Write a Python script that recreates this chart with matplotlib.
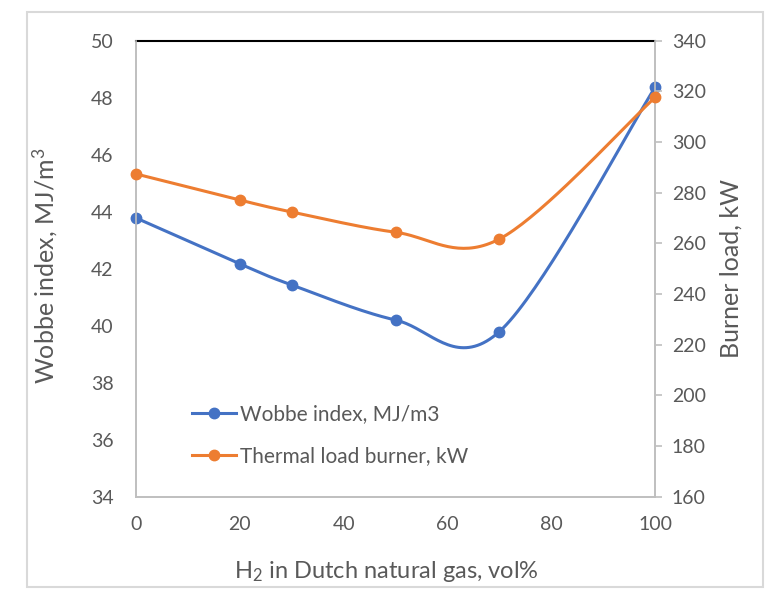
import numpy as np
import matplotlib
matplotlib.use("Agg")
import matplotlib.pyplot as plt
from matplotlib.patches import Rectangle
from matplotlib.lines import Line2D

h2_vol = [0, 20, 30, 50, 70, 100]
wobbe = [43.78, 42.17, 41.43, 40.2, 39.79, 48.36]
thermal_load = [287.4, 277.1, 272.4, 264.4, 261.7, 317.6]

BLUE = "#4472C4"
ORANGE = "#ED7D31"
GRAY_TXT = "#595959"
AX_GRAY = "#BFBFBF"

plt.rcParams['font.family'] = ['Lato', 'DejaVu Sans']
plt.rcParams['mathtext.fontset'] = 'custom'
plt.rcParams['mathtext.rm'] = 'Lato'
plt.rcParams['mathtext.it'] = 'Lato'


def excel_smooth(x, y, n=40):
    x = np.asarray(x, float)
    y = np.asarray(y, float)
    P = np.column_stack([x, y])
    ext = np.vstack([P[0], P, P[-1]])
    out = []
    for i in range(len(P) - 1):
        p0, p1, p2, p3 = ext[i], ext[i + 1], ext[i + 2], ext[i + 3]
        c1 = p1 + (p2 - p0) / 6.0
        c2 = p2 - (p3 - p1) / 6.0
        t = np.linspace(0, 1, n)[:, None]
        seg = ((1 - t) ** 3) * p1 + 3 * ((1 - t) ** 2) * t * c1 + 3 * (1 - t) * t ** 2 * c2 + t ** 3 * p2
        if i > 0:
            seg = seg[1:]
        out.append(seg)
    out = np.vstack(out)
    return out[:, 0], out[:, 1]


W, H = 769, 589
fig = plt.figure(figsize=(W / 100, H / 100), dpi=100)
left, right, top, bottom = 136, 655, 40.7, 496.7
ax = fig.add_axes([left / W, 1 - bottom / H, (right - left) / W, (bottom - top) / H])
ax2 = ax.twinx()

ax.set_xlim(0, 100)
ax.set_ylim(34, 50)
ax2.set_ylim(160, 340)
ax.set_xticks(np.arange(0, 101, 20))
ax.set_yticks(np.arange(34, 51, 2))
ax2.set_yticks(np.arange(160, 341, 20))

for a in (ax, ax2):
    for s in a.spines.values():
        s.set_color(AX_GRAY)
        s.set_linewidth(1.2)
    a.spines['top'].set_visible(False)
ax.plot([0, 100], [50, 50], color="black", lw=1.5, zorder=3, clip_on=False)

ax.tick_params(axis='y', length=0, pad=16, labelsize=14, labelcolor=GRAY_TXT)
ax.tick_params(axis='x', length=0, pad=14, labelsize=14, labelcolor=GRAY_TXT)
ax2.tick_params(axis='y', length=5, width=1.2, color=AX_GRAY, pad=7, labelsize=14, labelcolor=GRAY_TXT)

sx, sy = excel_smooth(h2_vol, wobbe)
ax.plot(sx, sy, color=BLUE, lw=2.2, zorder=4)
ax.plot(h2_vol, wobbe, 'o', color=BLUE, ms=7.5, zorder=5, clip_on=False)

tx, ty = excel_smooth(h2_vol, thermal_load)
ax2.plot(tx, ty, color=ORANGE, lw=2.2, zorder=4)
ax2.plot(h2_vol, thermal_load, 'o', color=ORANGE, ms=7.5, zorder=5, clip_on=False)

handles = [Line2D([], [], color=BLUE, lw=2.2, marker='o', ms=7.5),
           Line2D([], [], color=ORANGE, lw=2.2, marker='o', ms=7.5)]
leg = ax2.legend(handles, ["Wobbe index, MJ/m3", "Thermal load burner, kW"],
                 loc='upper left', bbox_to_anchor=((192 - left) / (right - left), (bottom - 404) / (bottom - top)),
                 frameon=False, fontsize=15, handlelength=2.1, handletextpad=0.2, labelspacing=1.08,
                 borderaxespad=0, borderpad=0)
for t in leg.get_texts():
    t.set_color(GRAY_TXT)

fig.text(45 / W, 1 - 266 / H, "Wobbe index, MJ/m$^3$", rotation=90, ha='center', va='center',
         fontsize=18, color=GRAY_TXT)
fig.text(731 / W, 1 - 268 / H, "Burner load, kW", rotation=90, ha='center', va='center',
         fontsize=18, color=GRAY_TXT)
fig.text(386 / W, 1 - 572 / H, "H$_2$ in Dutch natural gas, vol%", ha='center', va='center',
         fontsize=17, color=GRAY_TXT)

fig.patches.append(Rectangle((27 / W, 1 - 587 / H), (763 - 27) / W, (587 - 12) / H, transform=fig.transFigure,
                             fill=False, edgecolor="#D9D9D9", lw=1.5))

fig.savefig("out.png", dpi=100)
